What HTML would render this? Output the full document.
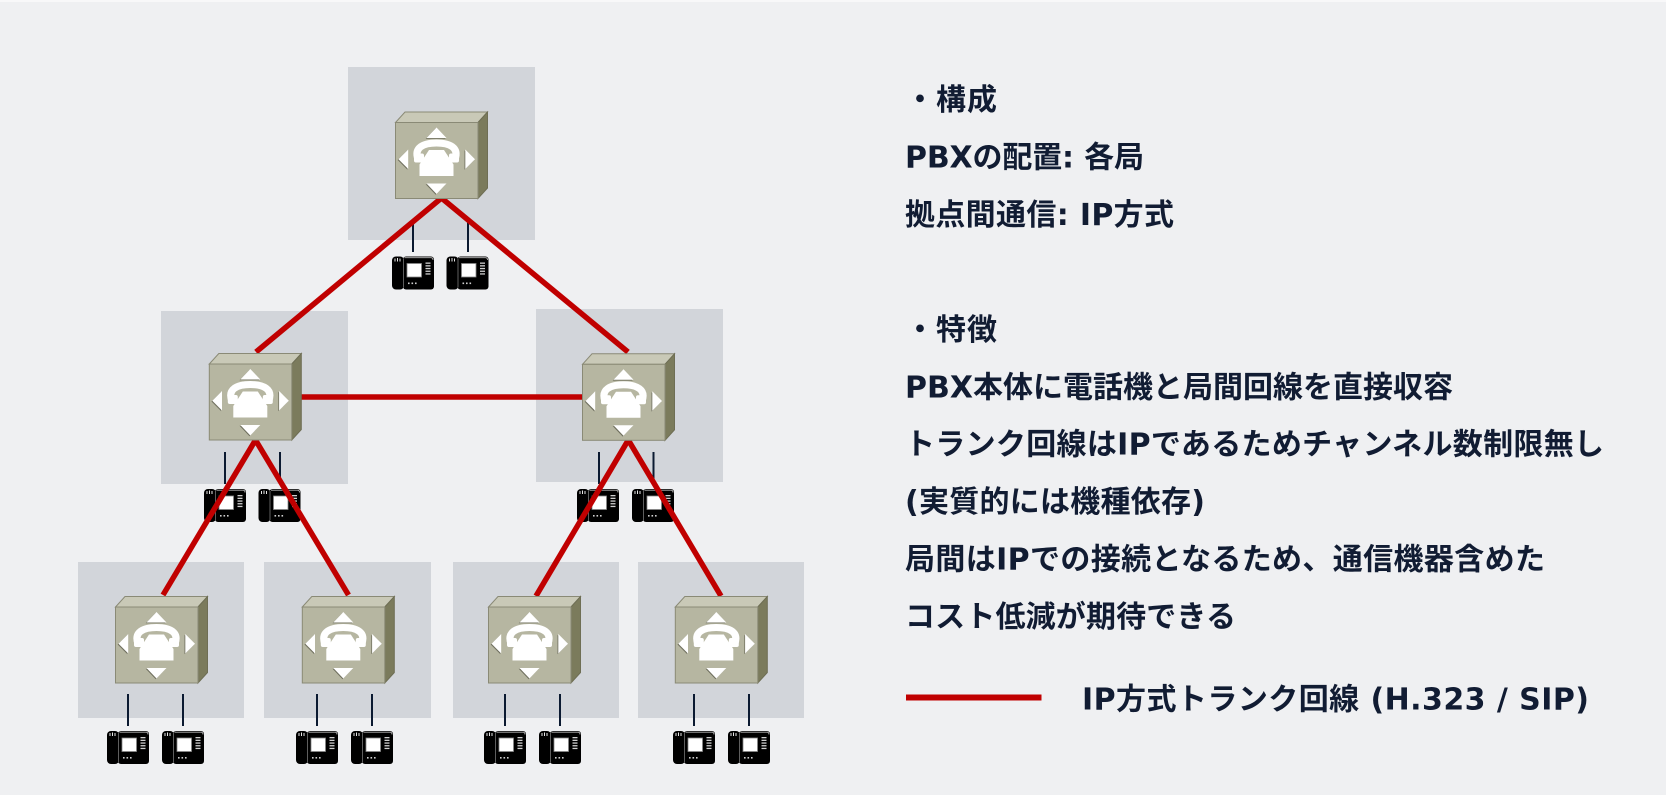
<!DOCTYPE html>
<html>
<head>
<meta charset="utf-8">
<style>
  html,body{margin:0;padding:0;background:#eff0f2;}
  body{width:1666px;height:795px;overflow:hidden;}
  svg{display:block;}
  .t{font-family:"DejaVu Sans","Noto Sans CJK JP",sans-serif;font-weight:bold;font-size:30px;fill:#111c33;}
</style>
</head>
<body>
<svg width="1666" height="795" viewBox="0 0 1666 795" xmlns="http://www.w3.org/2000/svg">
  <rect x="0" y="0" width="1666" height="795" fill="#eff0f2"/>
  <rect x="0" y="0" width="1666" height="2" fill="#f8f8f9"/>

  <!-- gray site boxes -->
  <g fill="#d2d5da">
    <rect x="348" y="67" width="187" height="173"/>
    <rect x="161" y="311" width="187" height="173"/>
    <rect x="536" y="309" width="187" height="173"/>
    <rect x="78" y="562" width="166" height="156"/>
    <rect x="264" y="562" width="167" height="156"/>
    <rect x="453" y="562" width="166" height="156"/>
    <rect x="638" y="562" width="166" height="156"/>
  </g>

  <!-- vertical phone connection lines -->
  <g stroke="#0b1a31" stroke-width="2">
    <line x1="413" y1="220" x2="413" y2="252"/>
    <line x1="468" y1="220" x2="468" y2="252"/>
    <line x1="225" y1="452" x2="225" y2="484"/>
    <line x1="280" y1="452" x2="280" y2="484"/>
    <line x1="599" y1="452" x2="599" y2="484"/>
    <line x1="653.5" y1="452" x2="653.5" y2="484"/>
    <line x1="128" y1="694" x2="128" y2="726"/>
    <line x1="183" y1="694" x2="183" y2="726"/>
    <line x1="317" y1="694" x2="317" y2="726"/>
    <line x1="372" y1="694" x2="372" y2="726"/>
    <line x1="505" y1="694" x2="505" y2="726"/>
    <line x1="560" y1="694" x2="560" y2="726"/>
    <line x1="694" y1="694" x2="694" y2="726"/>
    <line x1="749" y1="694" x2="749" y2="726"/>
  </g>

  <!-- phones -->
  <g id="phones">
    <g transform="translate(392,256.5)">
      <rect x="0" y="0" width="12" height="33" rx="4" fill="#000"/>
      <path d="M3,5 V2 M5.5,5 V1.5 M8,5 V2" stroke="#fff" stroke-width="0.9"/>
      <rect x="11" y="0" width="31" height="33" rx="3" fill="#000"/>
      <path d="M12.5,1.2 H39 Q41,1.2 41,3.5" stroke="#b8b8b8" stroke-width="0.9" fill="none"/>
      <line x1="11.5" y1="2" x2="11.5" y2="31" stroke="#777" stroke-width="0.8"/>
      <rect x="15" y="7" width="14.5" height="13.5" fill="#fff" stroke="#888" stroke-width="0.8"/>
      <g fill="#cfcfcf"><rect x="33.5" y="6" width="5" height="1.3"/><rect x="33.5" y="8.7" width="5" height="1.3"/><rect x="33.5" y="11.4" width="5" height="1.3"/><rect x="33.5" y="14.1" width="5" height="1.3"/><rect x="33.5" y="16.8" width="5" height="1.3"/>
      <rect x="16" y="26" width="1.6" height="1.6"/><rect x="19.5" y="26" width="1.6" height="1.6"/><rect x="23" y="26" width="1.6" height="1.6"/></g>
    </g>
    <g transform="translate(446.5,256.5)">
      <rect x="0" y="0" width="12" height="33" rx="4" fill="#000"/>
      <path d="M3,5 V2 M5.5,5 V1.5 M8,5 V2" stroke="#fff" stroke-width="0.9"/>
      <rect x="11" y="0" width="31" height="33" rx="3" fill="#000"/>
      <path d="M12.5,1.2 H39 Q41,1.2 41,3.5" stroke="#b8b8b8" stroke-width="0.9" fill="none"/>
      <line x1="11.5" y1="2" x2="11.5" y2="31" stroke="#777" stroke-width="0.8"/>
      <rect x="15" y="7" width="14.5" height="13.5" fill="#fff" stroke="#888" stroke-width="0.8"/>
      <g fill="#cfcfcf"><rect x="33.5" y="6" width="5" height="1.3"/><rect x="33.5" y="8.7" width="5" height="1.3"/><rect x="33.5" y="11.4" width="5" height="1.3"/><rect x="33.5" y="14.1" width="5" height="1.3"/><rect x="33.5" y="16.8" width="5" height="1.3"/>
      <rect x="16" y="26" width="1.6" height="1.6"/><rect x="19.5" y="26" width="1.6" height="1.6"/><rect x="23" y="26" width="1.6" height="1.6"/></g>
    </g>
    <g transform="translate(204,489)">
      <rect x="0" y="0" width="12" height="33" rx="4" fill="#000"/>
      <path d="M3,5 V2 M5.5,5 V1.5 M8,5 V2" stroke="#fff" stroke-width="0.9"/>
      <rect x="11" y="0" width="31" height="33" rx="3" fill="#000"/>
      <path d="M12.5,1.2 H39 Q41,1.2 41,3.5" stroke="#b8b8b8" stroke-width="0.9" fill="none"/>
      <line x1="11.5" y1="2" x2="11.5" y2="31" stroke="#777" stroke-width="0.8"/>
      <rect x="15" y="7" width="14.5" height="13.5" fill="#fff" stroke="#888" stroke-width="0.8"/>
      <g fill="#cfcfcf"><rect x="33.5" y="6" width="5" height="1.3"/><rect x="33.5" y="8.7" width="5" height="1.3"/><rect x="33.5" y="11.4" width="5" height="1.3"/><rect x="33.5" y="14.1" width="5" height="1.3"/><rect x="33.5" y="16.8" width="5" height="1.3"/>
      <rect x="16" y="26" width="1.6" height="1.6"/><rect x="19.5" y="26" width="1.6" height="1.6"/><rect x="23" y="26" width="1.6" height="1.6"/></g>
    </g>
    <g transform="translate(258.5,489)">
      <rect x="0" y="0" width="12" height="33" rx="4" fill="#000"/>
      <path d="M3,5 V2 M5.5,5 V1.5 M8,5 V2" stroke="#fff" stroke-width="0.9"/>
      <rect x="11" y="0" width="31" height="33" rx="3" fill="#000"/>
      <path d="M12.5,1.2 H39 Q41,1.2 41,3.5" stroke="#b8b8b8" stroke-width="0.9" fill="none"/>
      <line x1="11.5" y1="2" x2="11.5" y2="31" stroke="#777" stroke-width="0.8"/>
      <rect x="15" y="7" width="14.5" height="13.5" fill="#fff" stroke="#888" stroke-width="0.8"/>
      <g fill="#cfcfcf"><rect x="33.5" y="6" width="5" height="1.3"/><rect x="33.5" y="8.7" width="5" height="1.3"/><rect x="33.5" y="11.4" width="5" height="1.3"/><rect x="33.5" y="14.1" width="5" height="1.3"/><rect x="33.5" y="16.8" width="5" height="1.3"/>
      <rect x="16" y="26" width="1.6" height="1.6"/><rect x="19.5" y="26" width="1.6" height="1.6"/><rect x="23" y="26" width="1.6" height="1.6"/></g>
    </g>
    <g transform="translate(577,489)">
      <rect x="0" y="0" width="12" height="33" rx="4" fill="#000"/>
      <path d="M3,5 V2 M5.5,5 V1.5 M8,5 V2" stroke="#fff" stroke-width="0.9"/>
      <rect x="11" y="0" width="31" height="33" rx="3" fill="#000"/>
      <path d="M12.5,1.2 H39 Q41,1.2 41,3.5" stroke="#b8b8b8" stroke-width="0.9" fill="none"/>
      <line x1="11.5" y1="2" x2="11.5" y2="31" stroke="#777" stroke-width="0.8"/>
      <rect x="15" y="7" width="14.5" height="13.5" fill="#fff" stroke="#888" stroke-width="0.8"/>
      <g fill="#cfcfcf"><rect x="33.5" y="6" width="5" height="1.3"/><rect x="33.5" y="8.7" width="5" height="1.3"/><rect x="33.5" y="11.4" width="5" height="1.3"/><rect x="33.5" y="14.1" width="5" height="1.3"/><rect x="33.5" y="16.8" width="5" height="1.3"/>
      <rect x="16" y="26" width="1.6" height="1.6"/><rect x="19.5" y="26" width="1.6" height="1.6"/><rect x="23" y="26" width="1.6" height="1.6"/></g>
    </g>
    <g transform="translate(632,489)">
      <rect x="0" y="0" width="12" height="33" rx="4" fill="#000"/>
      <path d="M3,5 V2 M5.5,5 V1.5 M8,5 V2" stroke="#fff" stroke-width="0.9"/>
      <rect x="11" y="0" width="31" height="33" rx="3" fill="#000"/>
      <path d="M12.5,1.2 H39 Q41,1.2 41,3.5" stroke="#b8b8b8" stroke-width="0.9" fill="none"/>
      <line x1="11.5" y1="2" x2="11.5" y2="31" stroke="#777" stroke-width="0.8"/>
      <rect x="15" y="7" width="14.5" height="13.5" fill="#fff" stroke="#888" stroke-width="0.8"/>
      <g fill="#cfcfcf"><rect x="33.5" y="6" width="5" height="1.3"/><rect x="33.5" y="8.7" width="5" height="1.3"/><rect x="33.5" y="11.4" width="5" height="1.3"/><rect x="33.5" y="14.1" width="5" height="1.3"/><rect x="33.5" y="16.8" width="5" height="1.3"/>
      <rect x="16" y="26" width="1.6" height="1.6"/><rect x="19.5" y="26" width="1.6" height="1.6"/><rect x="23" y="26" width="1.6" height="1.6"/></g>
    </g>
    <g transform="translate(107,731)">
      <rect x="0" y="0" width="12" height="33" rx="4" fill="#000"/>
      <path d="M3,5 V2 M5.5,5 V1.5 M8,5 V2" stroke="#fff" stroke-width="0.9"/>
      <rect x="11" y="0" width="31" height="33" rx="3" fill="#000"/>
      <path d="M12.5,1.2 H39 Q41,1.2 41,3.5" stroke="#b8b8b8" stroke-width="0.9" fill="none"/>
      <line x1="11.5" y1="2" x2="11.5" y2="31" stroke="#777" stroke-width="0.8"/>
      <rect x="15" y="7" width="14.5" height="13.5" fill="#fff" stroke="#888" stroke-width="0.8"/>
      <g fill="#cfcfcf"><rect x="33.5" y="6" width="5" height="1.3"/><rect x="33.5" y="8.7" width="5" height="1.3"/><rect x="33.5" y="11.4" width="5" height="1.3"/><rect x="33.5" y="14.1" width="5" height="1.3"/><rect x="33.5" y="16.8" width="5" height="1.3"/>
      <rect x="16" y="26" width="1.6" height="1.6"/><rect x="19.5" y="26" width="1.6" height="1.6"/><rect x="23" y="26" width="1.6" height="1.6"/></g>
    </g>
    <g transform="translate(162,731)">
      <rect x="0" y="0" width="12" height="33" rx="4" fill="#000"/>
      <path d="M3,5 V2 M5.5,5 V1.5 M8,5 V2" stroke="#fff" stroke-width="0.9"/>
      <rect x="11" y="0" width="31" height="33" rx="3" fill="#000"/>
      <path d="M12.5,1.2 H39 Q41,1.2 41,3.5" stroke="#b8b8b8" stroke-width="0.9" fill="none"/>
      <line x1="11.5" y1="2" x2="11.5" y2="31" stroke="#777" stroke-width="0.8"/>
      <rect x="15" y="7" width="14.5" height="13.5" fill="#fff" stroke="#888" stroke-width="0.8"/>
      <g fill="#cfcfcf"><rect x="33.5" y="6" width="5" height="1.3"/><rect x="33.5" y="8.7" width="5" height="1.3"/><rect x="33.5" y="11.4" width="5" height="1.3"/><rect x="33.5" y="14.1" width="5" height="1.3"/><rect x="33.5" y="16.8" width="5" height="1.3"/>
      <rect x="16" y="26" width="1.6" height="1.6"/><rect x="19.5" y="26" width="1.6" height="1.6"/><rect x="23" y="26" width="1.6" height="1.6"/></g>
    </g>
    <g transform="translate(296,731)">
      <rect x="0" y="0" width="12" height="33" rx="4" fill="#000"/>
      <path d="M3,5 V2 M5.5,5 V1.5 M8,5 V2" stroke="#fff" stroke-width="0.9"/>
      <rect x="11" y="0" width="31" height="33" rx="3" fill="#000"/>
      <path d="M12.5,1.2 H39 Q41,1.2 41,3.5" stroke="#b8b8b8" stroke-width="0.9" fill="none"/>
      <line x1="11.5" y1="2" x2="11.5" y2="31" stroke="#777" stroke-width="0.8"/>
      <rect x="15" y="7" width="14.5" height="13.5" fill="#fff" stroke="#888" stroke-width="0.8"/>
      <g fill="#cfcfcf"><rect x="33.5" y="6" width="5" height="1.3"/><rect x="33.5" y="8.7" width="5" height="1.3"/><rect x="33.5" y="11.4" width="5" height="1.3"/><rect x="33.5" y="14.1" width="5" height="1.3"/><rect x="33.5" y="16.8" width="5" height="1.3"/>
      <rect x="16" y="26" width="1.6" height="1.6"/><rect x="19.5" y="26" width="1.6" height="1.6"/><rect x="23" y="26" width="1.6" height="1.6"/></g>
    </g>
    <g transform="translate(351,731)">
      <rect x="0" y="0" width="12" height="33" rx="4" fill="#000"/>
      <path d="M3,5 V2 M5.5,5 V1.5 M8,5 V2" stroke="#fff" stroke-width="0.9"/>
      <rect x="11" y="0" width="31" height="33" rx="3" fill="#000"/>
      <path d="M12.5,1.2 H39 Q41,1.2 41,3.5" stroke="#b8b8b8" stroke-width="0.9" fill="none"/>
      <line x1="11.5" y1="2" x2="11.5" y2="31" stroke="#777" stroke-width="0.8"/>
      <rect x="15" y="7" width="14.5" height="13.5" fill="#fff" stroke="#888" stroke-width="0.8"/>
      <g fill="#cfcfcf"><rect x="33.5" y="6" width="5" height="1.3"/><rect x="33.5" y="8.7" width="5" height="1.3"/><rect x="33.5" y="11.4" width="5" height="1.3"/><rect x="33.5" y="14.1" width="5" height="1.3"/><rect x="33.5" y="16.8" width="5" height="1.3"/>
      <rect x="16" y="26" width="1.6" height="1.6"/><rect x="19.5" y="26" width="1.6" height="1.6"/><rect x="23" y="26" width="1.6" height="1.6"/></g>
    </g>
    <g transform="translate(484,731)">
      <rect x="0" y="0" width="12" height="33" rx="4" fill="#000"/>
      <path d="M3,5 V2 M5.5,5 V1.5 M8,5 V2" stroke="#fff" stroke-width="0.9"/>
      <rect x="11" y="0" width="31" height="33" rx="3" fill="#000"/>
      <path d="M12.5,1.2 H39 Q41,1.2 41,3.5" stroke="#b8b8b8" stroke-width="0.9" fill="none"/>
      <line x1="11.5" y1="2" x2="11.5" y2="31" stroke="#777" stroke-width="0.8"/>
      <rect x="15" y="7" width="14.5" height="13.5" fill="#fff" stroke="#888" stroke-width="0.8"/>
      <g fill="#cfcfcf"><rect x="33.5" y="6" width="5" height="1.3"/><rect x="33.5" y="8.7" width="5" height="1.3"/><rect x="33.5" y="11.4" width="5" height="1.3"/><rect x="33.5" y="14.1" width="5" height="1.3"/><rect x="33.5" y="16.8" width="5" height="1.3"/>
      <rect x="16" y="26" width="1.6" height="1.6"/><rect x="19.5" y="26" width="1.6" height="1.6"/><rect x="23" y="26" width="1.6" height="1.6"/></g>
    </g>
    <g transform="translate(539,731)">
      <rect x="0" y="0" width="12" height="33" rx="4" fill="#000"/>
      <path d="M3,5 V2 M5.5,5 V1.5 M8,5 V2" stroke="#fff" stroke-width="0.9"/>
      <rect x="11" y="0" width="31" height="33" rx="3" fill="#000"/>
      <path d="M12.5,1.2 H39 Q41,1.2 41,3.5" stroke="#b8b8b8" stroke-width="0.9" fill="none"/>
      <line x1="11.5" y1="2" x2="11.5" y2="31" stroke="#777" stroke-width="0.8"/>
      <rect x="15" y="7" width="14.5" height="13.5" fill="#fff" stroke="#888" stroke-width="0.8"/>
      <g fill="#cfcfcf"><rect x="33.5" y="6" width="5" height="1.3"/><rect x="33.5" y="8.7" width="5" height="1.3"/><rect x="33.5" y="11.4" width="5" height="1.3"/><rect x="33.5" y="14.1" width="5" height="1.3"/><rect x="33.5" y="16.8" width="5" height="1.3"/>
      <rect x="16" y="26" width="1.6" height="1.6"/><rect x="19.5" y="26" width="1.6" height="1.6"/><rect x="23" y="26" width="1.6" height="1.6"/></g>
    </g>
    <g transform="translate(673,731)">
      <rect x="0" y="0" width="12" height="33" rx="4" fill="#000"/>
      <path d="M3,5 V2 M5.5,5 V1.5 M8,5 V2" stroke="#fff" stroke-width="0.9"/>
      <rect x="11" y="0" width="31" height="33" rx="3" fill="#000"/>
      <path d="M12.5,1.2 H39 Q41,1.2 41,3.5" stroke="#b8b8b8" stroke-width="0.9" fill="none"/>
      <line x1="11.5" y1="2" x2="11.5" y2="31" stroke="#777" stroke-width="0.8"/>
      <rect x="15" y="7" width="14.5" height="13.5" fill="#fff" stroke="#888" stroke-width="0.8"/>
      <g fill="#cfcfcf"><rect x="33.5" y="6" width="5" height="1.3"/><rect x="33.5" y="8.7" width="5" height="1.3"/><rect x="33.5" y="11.4" width="5" height="1.3"/><rect x="33.5" y="14.1" width="5" height="1.3"/><rect x="33.5" y="16.8" width="5" height="1.3"/>
      <rect x="16" y="26" width="1.6" height="1.6"/><rect x="19.5" y="26" width="1.6" height="1.6"/><rect x="23" y="26" width="1.6" height="1.6"/></g>
    </g>
    <g transform="translate(728,731)">
      <rect x="0" y="0" width="12" height="33" rx="4" fill="#000"/>
      <path d="M3,5 V2 M5.5,5 V1.5 M8,5 V2" stroke="#fff" stroke-width="0.9"/>
      <rect x="11" y="0" width="31" height="33" rx="3" fill="#000"/>
      <path d="M12.5,1.2 H39 Q41,1.2 41,3.5" stroke="#b8b8b8" stroke-width="0.9" fill="none"/>
      <line x1="11.5" y1="2" x2="11.5" y2="31" stroke="#777" stroke-width="0.8"/>
      <rect x="15" y="7" width="14.5" height="13.5" fill="#fff" stroke="#888" stroke-width="0.8"/>
      <g fill="#cfcfcf"><rect x="33.5" y="6" width="5" height="1.3"/><rect x="33.5" y="8.7" width="5" height="1.3"/><rect x="33.5" y="11.4" width="5" height="1.3"/><rect x="33.5" y="14.1" width="5" height="1.3"/><rect x="33.5" y="16.8" width="5" height="1.3"/>
      <rect x="16" y="26" width="1.6" height="1.6"/><rect x="19.5" y="26" width="1.6" height="1.6"/><rect x="23" y="26" width="1.6" height="1.6"/></g>
    </g>
  </g>

  <!-- red IP trunk lines -->
  <g stroke="#c00000" stroke-width="5.5" stroke-linecap="butt" fill="none">
    <line x1="441.5" y1="198" x2="256" y2="352"/>
    <line x1="441.5" y1="198" x2="628" y2="352"/>
    <line x1="295" y1="397" x2="585" y2="397"/>
    <line x1="255.5" y1="440" x2="163" y2="595"/>
    <line x1="255.5" y1="440" x2="348.5" y2="595"/>
    <line x1="628.3" y1="440" x2="536" y2="596"/>
    <line x1="628.3" y1="440" x2="721" y2="596"/>
  </g>

  <!-- PBX devices -->
  <g>
    <g transform="translate(395.5,122.5)">
      <polygon points="0,0 9.5,-10.5 92,-10.5 82.5,0" fill="#c9c9b7" stroke="#8a8a76" stroke-width="1"/>
      <polygon points="82.5,0 92,-10.5 92,65.5 82.5,76" fill="#7b7b5c" stroke="#6e6e54" stroke-width="1"/>
      <rect x="0" y="0" width="82.5" height="76" fill="#b6b6a1" stroke="#8a8a76" stroke-width="1"/>
      <g fill="#6f6f5e" transform="translate(-0.8,0.8)">
        <polygon points="41,5 31,15.5 51,15.5"/><polygon points="31,61 51,61 41,71.5"/>
        <polygon points="3,36.7 12.7,27 12.7,46.5"/><polygon points="79.5,36.7 69.8,27 69.8,46.5"/>
      </g>
      <g fill="#fff">
        <polygon points="41,5 31,15.5 51,15.5"/><polygon points="31,61 51,61 41,71.5"/>
        <polygon points="3,36.7 12.7,27 12.7,46.5"/><polygon points="79.5,36.7 69.8,27 69.8,46.5"/>
        <path d="M22.5,37 C18,25 28,20.5 41,20.5 C54,20.5 64,25 59.5,37" stroke="#fff" stroke-width="7" fill="none"/>
        <rect x="18.5" y="31" width="10" height="9" rx="2"/>
        <rect x="53.5" y="31" width="10" height="9" rx="2"/>
        <polygon points="33.5,27.5 48.5,27.5 58,42 58,53.5 24,53.5 24,42"/>
      </g>
    </g>
    <g transform="translate(209.3,364)">
      <polygon points="0,0 9.5,-10.5 92,-10.5 82.5,0" fill="#c9c9b7" stroke="#8a8a76" stroke-width="1"/>
      <polygon points="82.5,0 92,-10.5 92,65.5 82.5,76" fill="#7b7b5c" stroke="#6e6e54" stroke-width="1"/>
      <rect x="0" y="0" width="82.5" height="76" fill="#b6b6a1" stroke="#8a8a76" stroke-width="1"/>
      <g fill="#6f6f5e" transform="translate(-0.8,0.8)">
        <polygon points="41,5 31,15.5 51,15.5"/><polygon points="31,61 51,61 41,71.5"/>
        <polygon points="3,36.7 12.7,27 12.7,46.5"/><polygon points="79.5,36.7 69.8,27 69.8,46.5"/>
      </g>
      <g fill="#fff">
        <polygon points="41,5 31,15.5 51,15.5"/><polygon points="31,61 51,61 41,71.5"/>
        <polygon points="3,36.7 12.7,27 12.7,46.5"/><polygon points="79.5,36.7 69.8,27 69.8,46.5"/>
        <path d="M22.5,37 C18,25 28,20.5 41,20.5 C54,20.5 64,25 59.5,37" stroke="#fff" stroke-width="7" fill="none"/>
        <rect x="18.5" y="31" width="10" height="9" rx="2"/>
        <rect x="53.5" y="31" width="10" height="9" rx="2"/>
        <polygon points="33.5,27.5 48.5,27.5 58,42 58,53.5 24,53.5 24,42"/>
      </g>
    </g>
    <g transform="translate(582.5,364.3)">
      <polygon points="0,0 9.5,-10.5 92,-10.5 82.5,0" fill="#c9c9b7" stroke="#8a8a76" stroke-width="1"/>
      <polygon points="82.5,0 92,-10.5 92,65.5 82.5,76" fill="#7b7b5c" stroke="#6e6e54" stroke-width="1"/>
      <rect x="0" y="0" width="82.5" height="76" fill="#b6b6a1" stroke="#8a8a76" stroke-width="1"/>
      <g fill="#6f6f5e" transform="translate(-0.8,0.8)">
        <polygon points="41,5 31,15.5 51,15.5"/><polygon points="31,61 51,61 41,71.5"/>
        <polygon points="3,36.7 12.7,27 12.7,46.5"/><polygon points="79.5,36.7 69.8,27 69.8,46.5"/>
      </g>
      <g fill="#fff">
        <polygon points="41,5 31,15.5 51,15.5"/><polygon points="31,61 51,61 41,71.5"/>
        <polygon points="3,36.7 12.7,27 12.7,46.5"/><polygon points="79.5,36.7 69.8,27 69.8,46.5"/>
        <path d="M22.5,37 C18,25 28,20.5 41,20.5 C54,20.5 64,25 59.5,37" stroke="#fff" stroke-width="7" fill="none"/>
        <rect x="18.5" y="31" width="10" height="9" rx="2"/>
        <rect x="53.5" y="31" width="10" height="9" rx="2"/>
        <polygon points="33.5,27.5 48.5,27.5 58,42 58,53.5 24,53.5 24,42"/>
      </g>
    </g>
    <g transform="translate(115.5,607)">
      <polygon points="0,0 9.5,-10.5 92,-10.5 82.5,0" fill="#c9c9b7" stroke="#8a8a76" stroke-width="1"/>
      <polygon points="82.5,0 92,-10.5 92,65.5 82.5,76" fill="#7b7b5c" stroke="#6e6e54" stroke-width="1"/>
      <rect x="0" y="0" width="82.5" height="76" fill="#b6b6a1" stroke="#8a8a76" stroke-width="1"/>
      <g fill="#6f6f5e" transform="translate(-0.8,0.8)">
        <polygon points="41,5 31,15.5 51,15.5"/><polygon points="31,61 51,61 41,71.5"/>
        <polygon points="3,36.7 12.7,27 12.7,46.5"/><polygon points="79.5,36.7 69.8,27 69.8,46.5"/>
      </g>
      <g fill="#fff">
        <polygon points="41,5 31,15.5 51,15.5"/><polygon points="31,61 51,61 41,71.5"/>
        <polygon points="3,36.7 12.7,27 12.7,46.5"/><polygon points="79.5,36.7 69.8,27 69.8,46.5"/>
        <path d="M22.5,37 C18,25 28,20.5 41,20.5 C54,20.5 64,25 59.5,37" stroke="#fff" stroke-width="7" fill="none"/>
        <rect x="18.5" y="31" width="10" height="9" rx="2"/>
        <rect x="53.5" y="31" width="10" height="9" rx="2"/>
        <polygon points="33.5,27.5 48.5,27.5 58,42 58,53.5 24,53.5 24,42"/>
      </g>
    </g>
    <g transform="translate(302.3,607)">
      <polygon points="0,0 9.5,-10.5 92,-10.5 82.5,0" fill="#c9c9b7" stroke="#8a8a76" stroke-width="1"/>
      <polygon points="82.5,0 92,-10.5 92,65.5 82.5,76" fill="#7b7b5c" stroke="#6e6e54" stroke-width="1"/>
      <rect x="0" y="0" width="82.5" height="76" fill="#b6b6a1" stroke="#8a8a76" stroke-width="1"/>
      <g fill="#6f6f5e" transform="translate(-0.8,0.8)">
        <polygon points="41,5 31,15.5 51,15.5"/><polygon points="31,61 51,61 41,71.5"/>
        <polygon points="3,36.7 12.7,27 12.7,46.5"/><polygon points="79.5,36.7 69.8,27 69.8,46.5"/>
      </g>
      <g fill="#fff">
        <polygon points="41,5 31,15.5 51,15.5"/><polygon points="31,61 51,61 41,71.5"/>
        <polygon points="3,36.7 12.7,27 12.7,46.5"/><polygon points="79.5,36.7 69.8,27 69.8,46.5"/>
        <path d="M22.5,37 C18,25 28,20.5 41,20.5 C54,20.5 64,25 59.5,37" stroke="#fff" stroke-width="7" fill="none"/>
        <rect x="18.5" y="31" width="10" height="9" rx="2"/>
        <rect x="53.5" y="31" width="10" height="9" rx="2"/>
        <polygon points="33.5,27.5 48.5,27.5 58,42 58,53.5 24,53.5 24,42"/>
      </g>
    </g>
    <g transform="translate(488.5,607)">
      <polygon points="0,0 9.5,-10.5 92,-10.5 82.5,0" fill="#c9c9b7" stroke="#8a8a76" stroke-width="1"/>
      <polygon points="82.5,0 92,-10.5 92,65.5 82.5,76" fill="#7b7b5c" stroke="#6e6e54" stroke-width="1"/>
      <rect x="0" y="0" width="82.5" height="76" fill="#b6b6a1" stroke="#8a8a76" stroke-width="1"/>
      <g fill="#6f6f5e" transform="translate(-0.8,0.8)">
        <polygon points="41,5 31,15.5 51,15.5"/><polygon points="31,61 51,61 41,71.5"/>
        <polygon points="3,36.7 12.7,27 12.7,46.5"/><polygon points="79.5,36.7 69.8,27 69.8,46.5"/>
      </g>
      <g fill="#fff">
        <polygon points="41,5 31,15.5 51,15.5"/><polygon points="31,61 51,61 41,71.5"/>
        <polygon points="3,36.7 12.7,27 12.7,46.5"/><polygon points="79.5,36.7 69.8,27 69.8,46.5"/>
        <path d="M22.5,37 C18,25 28,20.5 41,20.5 C54,20.5 64,25 59.5,37" stroke="#fff" stroke-width="7" fill="none"/>
        <rect x="18.5" y="31" width="10" height="9" rx="2"/>
        <rect x="53.5" y="31" width="10" height="9" rx="2"/>
        <polygon points="33.5,27.5 48.5,27.5 58,42 58,53.5 24,53.5 24,42"/>
      </g>
    </g>
    <g transform="translate(675.3,607)">
      <polygon points="0,0 9.5,-10.5 92,-10.5 82.5,0" fill="#c9c9b7" stroke="#8a8a76" stroke-width="1"/>
      <polygon points="82.5,0 92,-10.5 92,65.5 82.5,76" fill="#7b7b5c" stroke="#6e6e54" stroke-width="1"/>
      <rect x="0" y="0" width="82.5" height="76" fill="#b6b6a1" stroke="#8a8a76" stroke-width="1"/>
      <g fill="#6f6f5e" transform="translate(-0.8,0.8)">
        <polygon points="41,5 31,15.5 51,15.5"/><polygon points="31,61 51,61 41,71.5"/>
        <polygon points="3,36.7 12.7,27 12.7,46.5"/><polygon points="79.5,36.7 69.8,27 69.8,46.5"/>
      </g>
      <g fill="#fff">
        <polygon points="41,5 31,15.5 51,15.5"/><polygon points="31,61 51,61 41,71.5"/>
        <polygon points="3,36.7 12.7,27 12.7,46.5"/><polygon points="79.5,36.7 69.8,27 69.8,46.5"/>
        <path d="M22.5,37 C18,25 28,20.5 41,20.5 C54,20.5 64,25 59.5,37" stroke="#fff" stroke-width="7" fill="none"/>
        <rect x="18.5" y="31" width="10" height="9" rx="2"/>
        <rect x="53.5" y="31" width="10" height="9" rx="2"/>
        <polygon points="33.5,27.5 48.5,27.5 58,42 58,53.5 24,53.5 24,42"/>
      </g>
    </g>
  </g>

  <!-- text -->
  <text class="t" x="905" y="110" textLength="92" lengthAdjust="spacing">・構成</text>
  <text class="t" x="905" y="167.5" textLength="239" lengthAdjust="spacing">PBXの配置: 各局</text>
  <text class="t" x="905" y="225" textLength="269" lengthAdjust="spacing">拠点間通信: IP方式</text>
  <text class="t" x="905" y="340" textLength="92" lengthAdjust="spacing">・特徴</text>
  <text class="t" x="905" y="397.3" textLength="548" lengthAdjust="spacing">PBX本体に電話機と局間回線を直接収容</text>
  <text class="t" x="905" y="454.7" textLength="699" lengthAdjust="spacing">トランク回線はIPであるためチャンネル数制限無し</text>
  <text class="t" x="905" y="512.1" textLength="300" lengthAdjust="spacing">(実質的には機種依存)</text>
  <text class="t" x="905" y="569.5" textLength="640" lengthAdjust="spacing">局間はIPでの接続となるため、通信機器含めた</text>
  <text class="t" x="905" y="626.9" textLength="331" lengthAdjust="spacing">コスト低減が期待できる</text>

  <!-- legend -->
  <rect x="906" y="694.5" width="135.5" height="6" fill="#c00000"/>
  <text class="t" x="1082" y="709.5" textLength="507" lengthAdjust="spacing">IP方式トランク回線 (H.323 / SIP)</text>
</svg>
</body>
</html>
